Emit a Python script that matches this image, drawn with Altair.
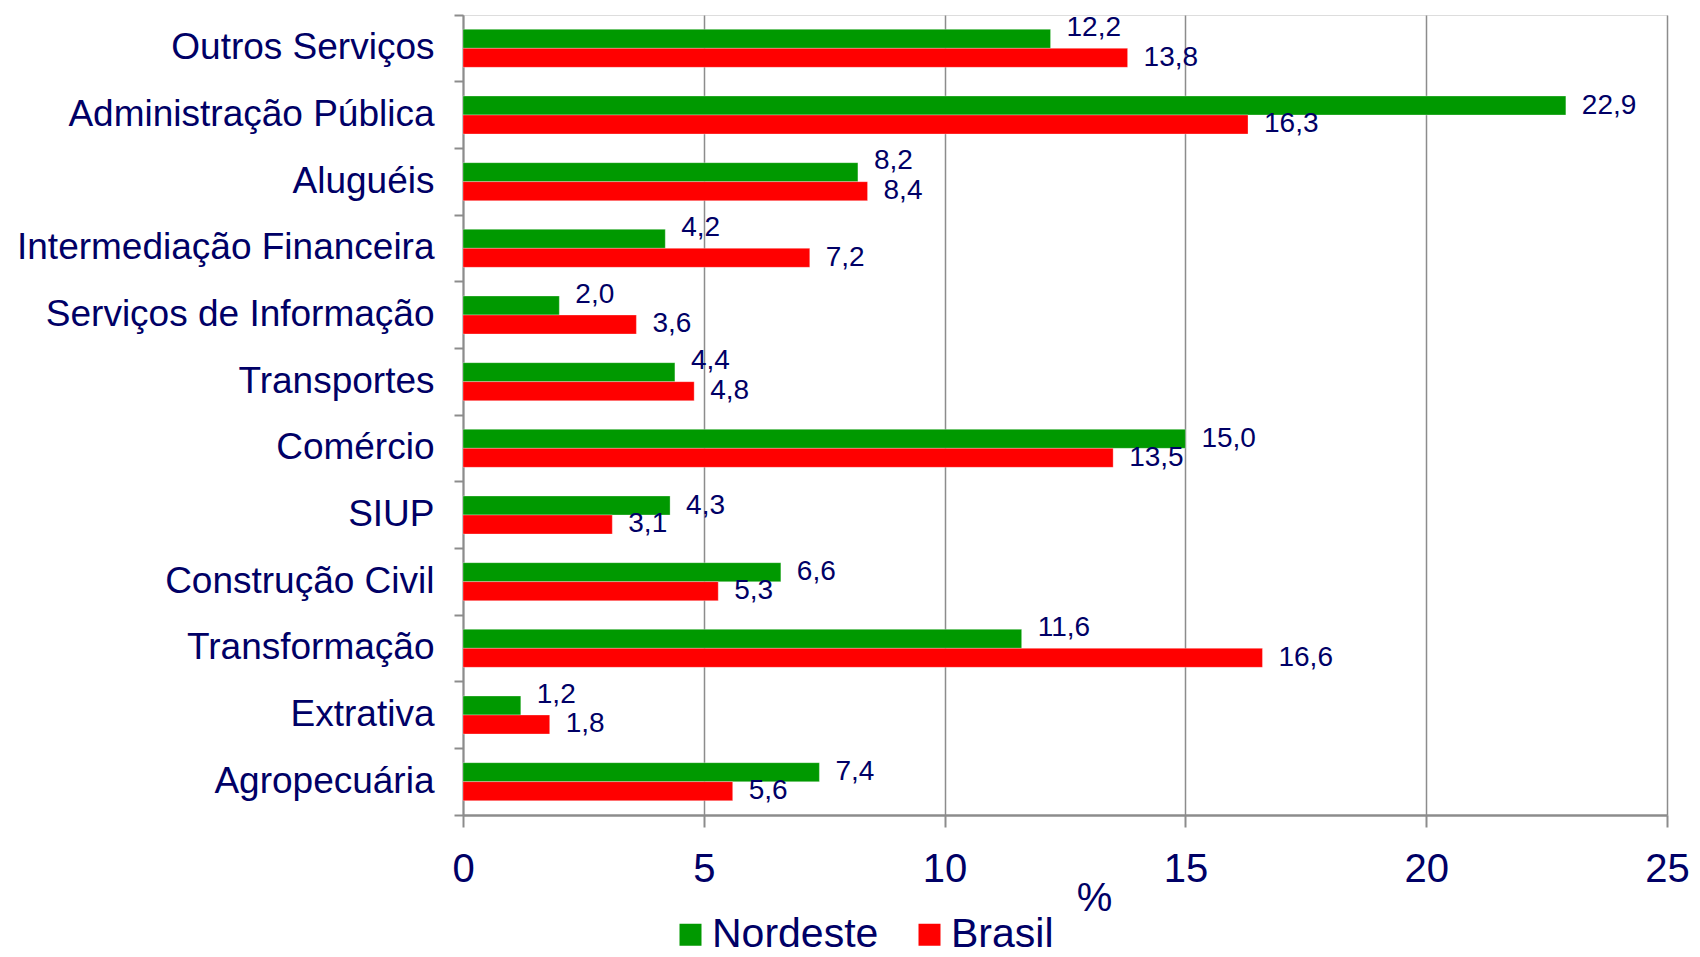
import altair as alt
import pandas as pd

categories = ["Outros Serviços", "Administração Pública", "Aluguéis",
              "Intermediação Financeira", "Serviços de Informação", "Transportes",
              "Comércio", "SIUP", "Construção Civil", "Transformação",
              "Extrativa", "Agropecuária"]
nordeste = [12.2, 22.9, 8.2, 4.2, 2.0, 4.4, 15.0, 4.3, 6.6, 11.6, 1.2, 7.4]
brasil = [13.8, 16.3, 8.4, 7.2, 3.6, 4.8, 13.5, 3.1, 5.3, 16.6, 1.8, 5.6]
series = ["Nordeste", "Brasil"]
colors = ["#009900", "#ff0000"]
x_ticks = [0, 5, 10, 15, 20, 25]

NAVY = "#000066"
GRAY = "#8c8c8c"
FONT = "Liberation Sans"

rows = []
for c, n, b in zip(categories, nordeste, brasil):
    rows.append({"category": c, "series": "Nordeste", "value": n,
                 "label": f"{n:.1f}".replace(".", ","), "raised": b > n})
    rows.append({"category": c, "series": "Brasil", "value": b,
                 "label": f"{b:.1f}".replace(".", ","), "raised": False})
df = pd.DataFrame(rows)

y_enc = alt.Y("category:N", sort=categories,
              scale=alt.Scale(paddingInner=0, paddingOuter=0),
              axis=alt.Axis(title=None, labelFontSize=37, labelColor=NAVY, labelFont=FONT,
                            labelPadding=20, tickSize=9, tickColor=GRAY, tickWidth=2,
                            domainColor=GRAY, domainWidth=2, bandPosition=1, tickExtra=True,
                            grid=False, labelLimit=0))
yoff_enc = alt.YOffset("series:N", sort=series,
                       scale=alt.Scale(paddingInner=0, paddingOuter=0.755))
x_enc = alt.X("value:Q", scale=alt.Scale(domain=[0, 25], nice=False),
              axis=alt.Axis(values=x_ticks, title="%", labelFontSize=40, labelColor=NAVY,
                            labelFont=FONT, labelPadding=22, labelFlush=False, tickSize=12,
                            tickColor=GRAY, tickWidth=2, domainColor=GRAY, domainWidth=2.5,
                            grid=True, gridColor=GRAY, gridWidth=1.5, titleFontSize=40,
                            titleFont=FONT, titleColor=NAVY, titleFontWeight="normal",
                            titleX=631, titleY=95, titleBaseline="alphabetic",
                            titleAlign="center"))

base = alt.Chart(df).encode(y=y_enc, yOffset=yoff_enc, x=x_enc)

bars = base.mark_bar(stroke="#ffffff", strokeWidth=0.6, strokeOpacity=0.5).encode(
    color=alt.Color("series:N", sort=series,
                    scale=alt.Scale(domain=series, range=colors),
                    legend=alt.Legend(title=None, orient="none", direction="horizontal",
                                      legendX=207, legendY=899, symbolType="square",
                                      symbolSize=484, symbolStrokeWidth=0, symbolOpacity=1,
                                      labelFontSize=41, labelFont=FONT, labelColor=NAVY,
                                      labelOffset=1, labelLimit=0, columnPadding=30,
                                      padding=0))
)

text_style = dict(align="left", baseline="middle", dx=16, fontSize=28, font=FONT, color=NAVY)
labels_flat = base.transform_filter("!datum.raised").mark_text(**text_style).encode(text="label:N")
labels_raised = base.transform_filter("datum.raised").mark_text(dy=-11, **text_style).encode(text="label:N")

chart = alt.layer(bars, labels_flat, labels_raised).properties(
    width=1204, height=800,
    autosize=alt.AutoSizeParams(type="none"),
    padding={"left": 455, "top": 7, "right": 25, "bottom": 142},
).configure_view(stroke=None).configure(background="white")

chart.save("out.html", embed_options={"renderer": "svg", "actions": False})
